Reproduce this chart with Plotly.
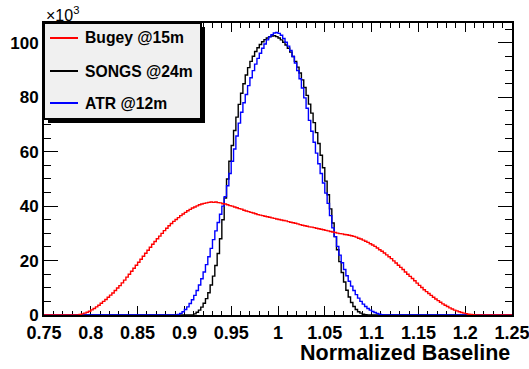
import numpy as np
import plotly.graph_objects as go

# ---------------- data (counts in units of 10^3 per bin) ----------------
x_min, x_max, n_bins = 0.75, 1.25, 200

series_names = ["Bugey @15m", "SONGS @24m", "ATR @12m"]

# Bugey @15m, first non-empty bin index = 15
bugey_first_bin = 15
bugey_counts = [
    0.2, 0.4, 0.7, 1.0, 1.4, 1.9, 2.4, 3.0, 3.6, 4.3,
    5.0, 5.7, 6.5, 7.3, 8.1, 9.0, 9.9, 10.8, 11.8, 12.8,
    13.9, 15.0, 16.1, 17.2, 18.3, 19.4, 20.5, 21.6, 22.7, 23.8,
    24.9, 26.0, 27.0, 28.0, 29.0, 30.0, 31.0, 31.9, 32.8, 33.6,
    34.4, 35.1, 35.8, 36.5, 37.1, 37.7, 38.3, 38.8, 39.3, 39.7,
    40.1, 40.5, 40.8, 41.0, 41.2, 41.4, 41.5, 41.4, 41.5, 41.3,
    41.2, 40.9, 40.8, 40.5, 40.2, 40.0, 39.7, 39.4, 39.1, 38.9,
    38.5, 38.2, 38.0, 37.7, 37.5, 37.2, 36.9, 36.7, 36.5, 36.3,
    36.1, 35.9, 35.7, 35.5, 35.3, 35.1, 34.9, 34.7, 34.6, 34.3,
    34.1, 33.9, 33.7, 33.5, 33.2, 33.0, 32.8, 32.6, 32.4, 32.3,
    32.1, 31.9, 31.7, 31.5, 31.3, 31.1, 30.9, 30.7, 30.5, 30.3,
    30.1, 29.9, 29.8, 29.6, 29.5, 29.3, 29.1, 28.9, 28.6, 28.2,
    27.9, 27.5, 27.1, 26.7, 26.2, 25.7, 25.2, 24.6, 24.0, 23.4,
    22.8, 22.1, 21.4, 20.7, 19.9, 19.1, 18.3, 17.5, 16.7, 15.8,
    15.0, 14.2, 13.4, 12.6, 11.7, 10.9, 10.1, 9.3, 8.6, 7.9,
    7.2, 6.5, 5.9, 5.3, 4.7, 4.1, 3.6, 3.1, 2.6, 2.2,
    1.8, 1.5, 1.2, 0.9, 0.7, 0.5, 0.3, 0.2, 0.1,
]

# SONGS @24m, first non-empty bin index = 64
songs_first_bin = 64
songs_counts = [
    0.4, 1.0, 1.8, 2.9, 4.3, 6.0, 8.2, 11.0, 14.3, 18.2,
    22.6, 28.0, 35.0, 43.0, 50.0, 56.5, 62.3, 67.8, 72.7, 77.4,
    81.5, 85.0, 88.2, 90.9, 93.2, 95.1, 96.8, 98.2, 99.4, 100.4,
    101.2, 101.8, 102.3, 102.5, 102.6, 102.3, 101.8, 101.1, 100.2, 99.2,
    98.0, 96.6, 95.0, 93.2, 91.1, 88.9, 86.4, 83.6, 80.7, 77.5,
    74.2, 70.7, 67.0, 63.0, 58.7, 54.1, 49.2, 44.2, 39.0, 33.8,
    28.8, 24.0, 19.6, 15.6, 12.1, 9.1, 6.6, 4.6, 3.1, 2.0,
    1.2, 0.7, 0.3, 0.1,
]

# ATR @12m, first non-empty bin index = 57
atr_first_bin = 57
atr_counts = [
    0.2, 0.6, 1.2, 2.0, 3.0, 4.2, 5.6, 7.2, 9.0, 11.0,
    13.3, 15.8, 18.5, 21.4, 24.5, 27.7, 30.9, 34.0, 37.0, 40.0,
    43.5, 47.5, 52.0, 56.5, 61.0, 65.8, 70.5, 74.5, 78.0, 81.0,
    84.3, 87.2, 89.8, 92.2, 94.3, 96.2, 98.0, 99.6, 101.1, 102.2,
    103.0, 103.6, 103.8, 103.5, 102.8, 101.6, 100.2, 98.8, 97.2, 95.0,
    92.6, 89.8, 86.8, 83.4, 79.8, 76.0, 71.5, 67.5, 63.5, 59.5,
    55.6, 52.0, 48.5, 44.8, 41.0, 36.5, 32.0, 28.8, 25.2, 22.0,
    19.2, 16.7, 14.4, 12.4, 10.6, 9.0, 7.5, 6.2, 5.0, 4.0,
    3.1, 2.4, 1.8, 1.3, 0.9, 0.6, 0.3, 0.1,
]

x_tick_step = 0.05
y_tick_step = 20
x_title = "Normalized Baseline"
y_exponent_label = "×10<sup>3</sup>"

# ---------------- build figure ----------------
W, H = 529, 369
L, R, T, B = 44, 17, 23, 54
PW, PH = W - L - R, H - T - B
FONT = "Liberation Sans, Arial, Helvetica, sans-serif"

edges = np.linspace(x_min, x_max, n_bins + 1)


def full_hist(first, counts):
    h = np.zeros(n_bins)
    h[first:first + len(counts)] = counts
    return h


def px(xp):
    return (xp - L) / PW


def py(yp):
    return (T + PH - yp) / PH


hists = {
    "Bugey @15m": full_hist(bugey_first_bin, bugey_counts),
    "SONGS @24m": full_hist(songs_first_bin, songs_counts),
    "ATR @12m": full_hist(atr_first_bin, atr_counts),
}
colors = {"Bugey @15m": "#ff0000", "SONGS @24m": "#000000", "ATR @12m": "#0000ff"}

fig = go.Figure()
for name in ["SONGS @24m", "ATR @12m", "Bugey @15m"]:
    h = hists[name]
    fig.add_trace(go.Scatter(
        x=edges, y=np.append(h, h[-1]), mode="lines",
        line=dict(color=colors[name], width=1.4, shape="hv"),
        name=name, showlegend=False, hoverinfo="skip",
    ))

ymax = 107.3
axis_common = dict(
    showgrid=False, zeroline=False, showline=True, linecolor="black",
    linewidth=2, ticks="inside", tickcolor="black", tickwidth=1,
    mirror="ticks", layer="below traces", automargin=False,
    ticklabeloverflow="allow",
)
fig.update_layout(
    width=W, height=H,
    margin=dict(l=L, r=R, t=T, b=B, autoexpand=False),
    paper_bgcolor="white", plot_bgcolor="white",
    xaxis=dict(
        range=[x_min, x_max], tick0=x_min, dtick=x_tick_step, ticklen=9,
        minor=dict(dtick=0.01, ticklen=4.5, tickcolor="black", tickwidth=1, ticks="inside"),
        tickfont=dict(family=FONT, size=18, color="black", weight="bold"),
        **axis_common,
    ),
    yaxis=dict(
        range=[0, ymax], tick0=0, dtick=y_tick_step, ticklen=14,
        minor=dict(dtick=5, ticklen=7, tickcolor="black", tickwidth=1, ticks="inside"),
        tickfont=dict(family=FONT, size=17, color="black", weight="bold"),
        **axis_common,
    ),
)

# legend (ROOT TLegend style with shadow)
shapes = [
    dict(type="rect", xref="paper", yref="paper", x0=px(48), x1=px(205), y0=py(123), y1=py(27),
         fillcolor="black", line=dict(width=0), layer="above"),
    dict(type="rect", xref="paper", yref="paper", x0=px(44), x1=px(201), y0=py(119), y1=py(23),
         fillcolor="#f0f0f0", line=dict(color="black", width=2), layer="above"),
]
annotations = []
rows = {"Bugey @15m": 38, "SONGS @24m": 71, "ATR @12m": 103}
for name in series_names:
    yr = rows[name]
    shapes.append(dict(type="line", xref="paper", yref="paper", x0=px(50), x1=px(78), y0=py(yr), y1=py(yr),
                       line=dict(color=colors[name], width=2), layer="above"))
    annotations.append(dict(text=name, xref="paper", yref="paper", x=px(83), y=py(yr),
                            xanchor="left", yanchor="middle", showarrow=False,
                            font=dict(family=FONT, size=15.7, color="black", weight="bold")))

annotations.append(dict(text=x_title, xref="paper", yref="paper", x=1.0, y=py(353),
                        xanchor="right", yanchor="middle", showarrow=False,
                        font=dict(family=FONT, size=21.5, color="black", weight="bold")))
annotations.append(dict(text=y_exponent_label, xref="paper", yref="paper", x=0.0, y=py(14),
                        xanchor="left", yanchor="middle", showarrow=False,
                        font=dict(family=FONT, size=16, color="black")))

fig.update_layout(shapes=shapes, annotations=annotations)
fig.write_html(
    "out.html",
    config={"displayModeBar": False},
    post_script="document.body.style.margin='0';document.body.style.overflow='hidden';",
)
